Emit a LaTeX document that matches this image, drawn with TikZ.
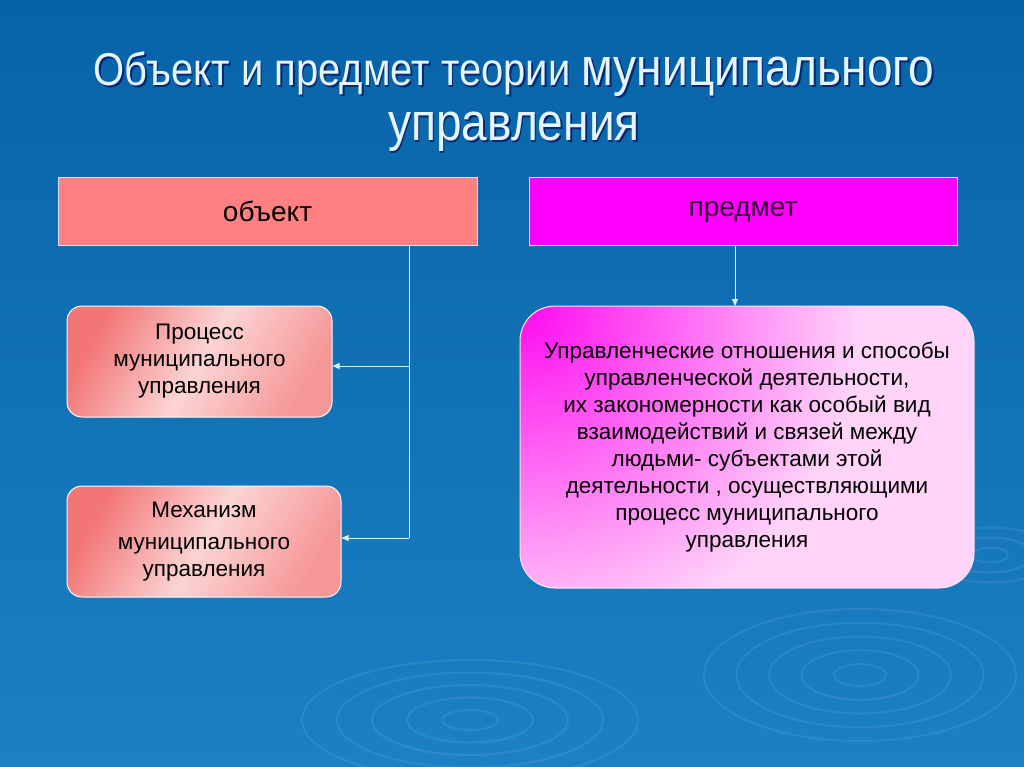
\documentclass[tikz,border=0pt]{standalone}
\usepackage{fontspec}
\setmainfont{Liberation Sans}
\usetikzlibrary{arrows.meta,shadings}
\definecolor{bgtop}{HTML}{0763A8}
\definecolor{bgbot}{HTML}{1C80C4}
\definecolor{salmon}{HTML}{FF8080}
\definecolor{magentab}{HTML}{FF00FF}
\definecolor{linec}{HTML}{D8F0FF}
\definecolor{pinkdark}{HTML}{F27676}
\definecolor{pinklight}{HTML}{FCD4D4}
\definecolor{magl}{HTML}{FFD4F8}
\definecolor{magd}{HTML}{FF10F0}
\definecolor{titlec}{HTML}{E6F4FF}
\definecolor{predtext}{HTML}{300030}
\tikzset{
  x=1pt, y=-1pt,
  headbox/.style={draw=white!85!blue, line width=1pt, inner sep=0pt, minimum width=#1, minimum height=67pt, font=\fontsize{28}{32}\selectfont},
  smallbox/.style={draw=white!90!pink, line width=1pt, rounded corners=15pt, inner sep=0pt,
     left color=pinkdark, right color=pinkdark!65!pinklight, middle color=pinklight, shading angle=60,
     align=center, font=\fontsize{22.5}{27}\selectfont},
  bigbox/.style={draw=white!90!magenta, line width=1pt, rounded corners=35pt, inner sep=0pt,
     align=center, font=\fontsize{22.5}{27}\selectfont},
  conn/.style={draw=linec, line width=1pt},
  arr/.style={conn, -{Triangle[length=7pt,width=6pt]}},
  ripple/.style={draw=white, opacity=0.08, line width=2pt},
  ttl/.style={text=titlec, inner sep=0pt, anchor=base, xscale=0.87},
  ttlsh/.style={text=black!70!blue, opacity=0.6, inner sep=0pt, anchor=base, xscale=0.87}
}
\begin{document}
\begin{tikzpicture}
\useasboundingbox (0,0) rectangle (1024,767);
\shade[top color=bgtop, bottom color=bgbot] (0,0) rectangle (1024,767);
% ripples
\foreach \r in {20,45,70,95,120}{
  \draw[ripple] (860,675) ellipse ({\r*1.3} and {\r*0.55});
  \draw[ripple] (470,720) ellipse ({\r*1.4} and {\r*0.5});
}
\foreach \r in {15,35,55}{
  \draw[ripple] (990,555) ellipse ({\r*1.2} and {\r*0.5});
}
% title
\node[ttlsh] (t1s) at (515.5,88) {\fontsize{46}{48}\selectfont Объект и предмет теории \fontsize{53}{48}\selectfont муниципального};
\node[ttl] (t1) at (514,86) {\fontsize{46}{48}\selectfont Объект и предмет теории \fontsize{53}{48}\selectfont муниципального};
\node[ttlsh] (t2s) at (515.5,143) {\fontsize{53}{48}\selectfont управления};
\node[ttl] (t2) at (514,141) {\fontsize{53}{48}\selectfont управления};
% head boxes
\node[headbox=419pt, fill=salmon] (obj) at (267.5,211.5) {объект};
\node[headbox=428pt, fill=magentab, text=predtext] (pred) at (743,211.5) {предмет};
% object boxes
\node[smallbox, minimum width=265pt, minimum height=111pt] (b1) at (199.5,361.5) {Процесс\\муниципального\\управления};
\node[smallbox, minimum width=274pt, minimum height=111pt] (b2) at (204,541.5) {Механизм\\[5pt]муниципального\\управления};
% subject box fill (radial, from top-left corner)
\begin{scope}
  \clip[rounded corners=35pt] (520,306) rectangle (974,588);
  \fill[magl] (520,306) rectangle (974,588);
  \shade[inner color=magd, outer color=magl] (530,315) circle (330);
\end{scope}
\node[bigbox, minimum width=454pt, minimum height=282pt] (big) at (747,447) {Управленческие отношения и способы\\управленческой деятельности,\\ их закономерности как особый вид\\взаимодействий и связей между\\людьми- субъектами этой\\ деятельности , осуществляющими\\процесс муниципального\\управления};
% connectors
\coordinate (j1) at (409,366);
\coordinate (j2) at (409,538);
\coordinate (p1) at (735,306);
\draw[conn] (obj.south -| j2) -- (j2);
\draw[arr] (j1) -- (j1 -| b1.east);
\draw[arr] (j2) -- (j2 -| b2.east);
\draw[arr] (pred.south -| p1) -- (p1);
\end{tikzpicture}
\end{document}
